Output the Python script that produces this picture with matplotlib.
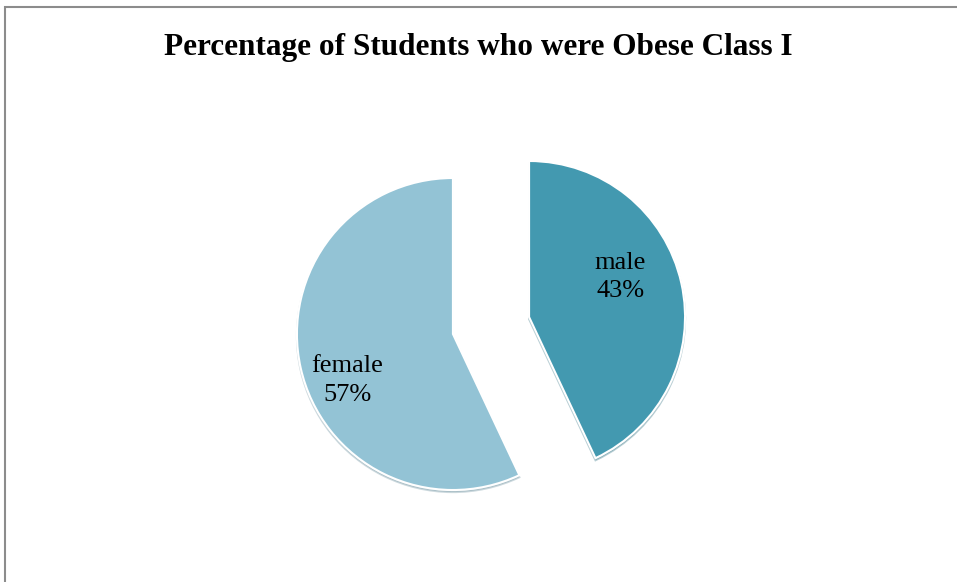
import numpy as np
import matplotlib.pyplot as plt
from matplotlib.patches import Rectangle

# data
labels = ['male', 'female']
shares = [43, 57]
colors = ['#4399b0', '#93c3d5']
title = 'Percentage of Students who were Obese Class I'

W, H = 957, 582
fig = plt.figure(figsize=(W / 100, H / 100), dpi=100)
ax = fig.add_axes([0, 0, 1, 1])

r = 156
# explode is in data units here (pixels), ~0.25 of the radius
wedges, _ = ax.pie(shares, colors=colors, startangle=90, counterclock=False,
                   explode=[0.25 * r, 0.25 * r], center=(491, H - 325.5), radius=r,
                   wedgeprops=dict(edgecolor='white', linewidth=1.5),
                   shadow=dict(ox=0, oy=-1.5, shade=0.25, alpha=0.35))
ax.set_xlim(0, W)
ax.set_ylim(0, H)
ax.set_aspect('equal')
ax.axis('off')

# labels inside each slice
for w, lab, s, dist in zip(wedges, labels, shares, [0.64, 0.74]):
    ang = np.deg2rad((w.theta1 + w.theta2) / 2 + 11)
    cx, cy = w.center
    ax.text(cx + dist * r * np.cos(ang), cy + dist * r * np.sin(ang),
            f'{lab}\n{s}%', ha='center', va='center', fontsize=19,
            family='Liberation Serif', linespacing=1.4)

fig.text(0.5, (H - 48) / H, title, ha='center', va='center',
         fontsize=22.5, fontweight='bold', family='Liberation Serif')

# outer frame (left and top edges visible)
fig.patches.append(Rectangle((5 / W, -0.1), 1.2, (H - 7) / H + 0.1,
                             transform=fig.transFigure, fill=False,
                             edgecolor='#8c8c8c', linewidth=1.5))

fig.savefig('out.png', dpi=100)
